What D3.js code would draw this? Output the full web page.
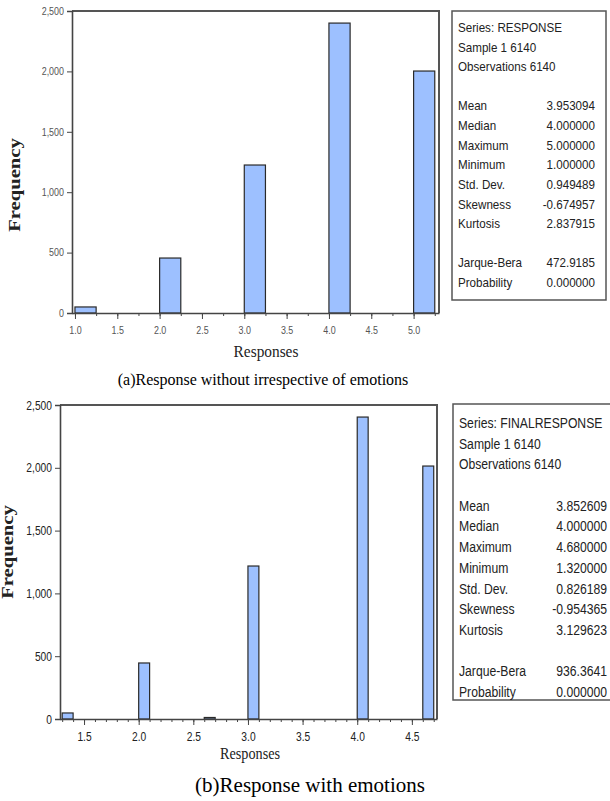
<!DOCTYPE html>
<html>
<head>
<meta charset="utf-8">
<script src="https://cdn.jsdelivr.net/npm/d3@7"></script>
<style>
  html, body { margin: 0; padding: 0; background: #fff; }
  svg { display: block; }
  .narrow { font-family: "Liberation Sans", Arial, sans-serif; }
  .serif { font-family: "Liberation Serif", "Times New Roman", serif; }
</style>
</head>
<body>
<div id="chart"></div>
<script>
(function () {
  "use strict";

  // panel (a): response without emotions
  const binStartsA = [1.0, 2.0, 3.0, 4.0, 5.0];
  const countsA = [50, 455, 1225, 2400, 2003];
  const binWidthA = 0.25;
  const xTicksA = [1.0, 1.5, 2.0, 2.5, 3.0, 3.5, 4.0, 4.5, 5.0];
  const statLabelsA = ["Mean", "Median", "Maximum", "Minimum", "Std. Dev.", "Skewness", "Kurtosis"];
  const statValuesA = ["3.953094", "4.000000", "5.000000", "1.000000", "0.949489", "-0.674957", "2.837915"];
  const headerA = ["Series: RESPONSE", "Sample 1 6140", "Observations 6140"];
  const testLabelsA = ["Jarque-Bera", "Probability"];
  const testValuesA = ["472.9185", "0.000000"];

  // panel (b): response with emotions
  const binStartsB = [1.3, 2.0, 2.6, 3.0, 4.0, 4.6];
  const countsB = [48, 446, 12, 1218, 2404, 2014];
  const binWidthB = 0.1;
  const xTicksB = [1.5, 2.0, 2.5, 3.0, 3.5, 4.0, 4.5];
  const statLabelsB = ["Mean", "Median", "Maximum", "Minimum", "Std. Dev.", "Skewness", "Kurtosis"];
  const statValuesB = ["3.852609", "4.000000", "4.680000", "1.320000", "0.826189", "-0.954365", "3.129623"];
  const headerB = ["Series: FINALRESPONSE", "Sample 1 6140", "Observations 6140"];
  const testLabelsB = ["Jarque-Bera", "Probability"];
  const testValuesB = ["936.3641", "0.000000"];

  const yTicks = [0, 500, 1000, 1500, 2000, 2500];

  const width = 610;
  const height = 801;
  const barFill = "#9dc0ff";

  const svg = d3.select("#chart")
    .append("svg")
    .attr("width", width)
    .attr("height", height)
    .attr("viewBox", `0 0 ${width} ${height}`);

  // squeeze a text horizontally around its own anchor
  function squeeze(sel, sx, x, y) {
    sel.attr("x", 0).attr("y", 0).attr("transform", `translate(${x},${y}) scale(${sx},1)`);
  }

  function drawPanel(opts) {
    const g = svg.append("g");
    const x = d3.scaleLinear().domain(opts.xDomain).range([opts.left, opts.right]);
    const y = d3.scaleLinear().domain([0, 2500]).range([opts.bottom, opts.top]);

    // bars
    g.selectAll("rect.bar")
      .data(opts.starts.map((s, i) => ({ start: s, count: opts.counts[i] })))
      .join("rect")
      .attr("class", "bar")
      .attr("x", (d) => x(d.start))
      .attr("y", (d) => y(d.count))
      .attr("width", (d) => x(d.start + opts.binWidth) - x(d.start))
      .attr("height", (d) => y(0) - y(d.count))
      .attr("fill", barFill)
      .attr("stroke", "#2a2a2a")
      .attr("stroke-width", 1.2);

    // frame top & right
    g.append("path")
      .attr("d", `M${opts.left},${opts.top}H${opts.right}V${opts.bottom}`)
      .attr("fill", "none")
      .attr("stroke", "#555")
      .attr("stroke-width", 2);

    // y axis
    const yAxis = d3.axisLeft(y)
      .tickValues(yTicks)
      .tickSize(5)
      .tickPadding(0)
      .tickFormat(d3.format(","));
    const ya = g.append("g")
      .attr("transform", `translate(${opts.left},0)`)
      .call(yAxis);
    ya.select(".domain").attr("stroke", "#444").attr("stroke-width", 1.6);
    ya.selectAll(".tick line").attr("stroke", "#444");
    ya.selectAll(".tick text")
      .attr("class", "narrow")
      .attr("font-size", opts.tickFont)
      .attr("fill", opts.tickColor)
      .attr("x", 0)
      .attr("transform", `translate(-8,0) scale(${opts.tickSqueeze},1)`);

    // x axis: minor then major
    const minor = d3.range(opts.minorStart, opts.xDomain[1], opts.minorStep);
    const xMinor = d3.axisBottom(x).tickValues(minor).tickSize(3).tickFormat("");
    const xm = g.append("g")
      .attr("transform", `translate(0,${opts.bottom})`)
      .call(xMinor);
    xm.select(".domain").remove();
    xm.selectAll(".tick line").attr("stroke", "#444");

    const xAxis = d3.axisBottom(x)
      .tickValues(opts.xTicks)
      .tickSize(6)
      .tickPadding(opts.xTickPad)
      .tickSizeOuter(0)
      .tickFormat(d3.format(".1f"));
    const xa = g.append("g")
      .attr("transform", `translate(0,${opts.bottom})`)
      .call(xAxis);
    xa.select(".domain").attr("stroke", "#444").attr("stroke-width", 1.6);
    xa.selectAll(".tick line").attr("stroke", "#444");
    xa.selectAll(".tick text")
      .attr("class", "narrow")
      .attr("font-size", opts.tickFont)
      .attr("fill", opts.tickColor)
      .attr("transform", `scale(${opts.tickSqueeze},1)`);

    // axis titles
    g.append("text")
      .attr("class", "serif")
      .attr("transform", `translate(${opts.yTitleX},${opts.yTitleY}) rotate(-90) scale(1.29,1)`)
      .attr("text-anchor", "middle")
      .attr("font-size", 16)
      .attr("font-weight", "bold")
      .attr("fill", "#222")
      .text("Frequency");

    g.append("text")
      .attr("class", "serif")
      .attr("text-anchor", "middle")
      .attr("font-size", 16)
      .attr("fill", "#222")
      .text("Responses")
      .call(squeeze, opts.xTitleSqueeze, opts.xTitleX, opts.xTitleY);

    g.append("text")
      .attr("class", "serif")
      .attr("x", opts.captionX)
      .attr("y", opts.captionY)
      .attr("text-anchor", "middle")
      .attr("font-size", opts.captionFont)
      .attr("fill", "#000")
      .text(opts.caption);

    // stats box
    const box = opts.box;
    g.append("rect")
      .attr("x", box.x)
      .attr("y", box.y)
      .attr("width", box.w)
      .attr("height", box.h)
      .attr("fill", "#fff")
      .attr("stroke", "#555")
      .attr("stroke-width", 1.5);

    const rows = [];
    opts.header.forEach((t) => rows.push({ label: t, value: "" }));
    rows.push(null);
    opts.statLabels.forEach((t, i) => rows.push({ label: t, value: opts.statValues[i] }));
    rows.push(null);
    opts.testLabels.forEach((t, i) => rows.push({ label: t, value: opts.testValues[i] }));

    const rowY = d3.scaleLinear().domain([0, rows.length - 1]).range([box.firstY, box.lastY]);
    const boxText = g.append("g")
      .attr("class", "narrow")
      .attr("font-size", box.font)
      .attr("fill", "#222");

    rows.forEach((r, i) => {
      if (!r) return;
      boxText.append("text")
        .text(r.label)
        .call(squeeze, box.squeeze, box.labelX, rowY(i));
      if (r.value) {
        boxText.append("text")
          .attr("text-anchor", "end")
          .text(r.value)
          .call(squeeze, box.squeeze, box.valueX, rowY(i));
      }
    });
  }

  drawPanel({
    starts: binStartsA,
    counts: countsA,
    binWidth: binWidthA,
    xTicks: xTicksA,
    xDomain: [0.965, 5.3],
    minorStart: 1.0,
    minorStep: 0.25,
    left: 72,
    right: 439,
    top: 11,
    bottom: 313,
    tickFont: 10.5,
    tickColor: "#555",
    tickSqueeze: 0.85,
    xTickPad: 8,
    yTitleX: 20,
    yTitleY: 185,
    xTitleX: 266,
    xTitleY: 357,
    xTitleSqueeze: 0.96,
    captionX: 263,
    captionY: 385,
    captionFont: 16,
    caption: "(a)Response without irrespective of emotions",
    header: headerA,
    statLabels: statLabelsA,
    statValues: statValuesA,
    testLabels: testLabelsA,
    testValues: testValuesA,
    box: { x: 452, y: 11, w: 154, h: 289, labelX: 458, valueX: 595, firstY: 32, lastY: 287, font: 12.5, squeeze: 0.93 }
  });

  drawPanel({
    starts: binStartsB,
    counts: countsB,
    binWidth: binWidthB,
    xTicks: xTicksB,
    xDomain: [1.28, 4.73],
    minorStart: 1.3,
    minorStep: 0.1,
    left: 60,
    right: 437,
    top: 405,
    bottom: 719,
    tickFont: 12.5,
    tickColor: "#222",
    tickSqueeze: 0.82,
    xTickPad: 7,
    yTitleX: 13,
    yTitleY: 552,
    xTitleX: 250,
    xTitleY: 759,
    xTitleSqueeze: 0.89,
    captionX: 310,
    captionY: 792,
    captionFont: 21,
    caption: "(b)Response with emotions",
    header: headerB,
    statLabels: statLabelsB,
    statValues: statValuesB,
    testLabels: testLabelsB,
    testValues: testValuesB,
    box: { x: 453, y: 404, w: 160, h: 296, labelX: 459, valueX: 607, firstY: 428, lastY: 697, font: 14, squeeze: 0.87 }
  });
})();
</script>
</body>
</html>
